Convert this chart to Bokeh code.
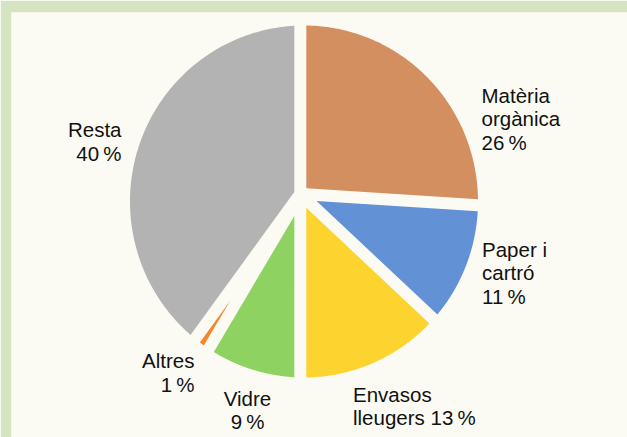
import numpy as np
from bokeh.plotting import figure
from bokeh.models import Range1d, ColumnDataSource
from bokeh.core.properties import value
from bokeh.embed import file_html
from bokeh.resources import INLINE

# ---- data ----
categories = ["Matèria orgànica", "Paper i cartró", "Envasos lleugers", "Vidre", "Altres", "Resta"]
shares = [26, 11, 13, 8.5, 1.5, 40]
labels = ["Matèria\norgànica\n26\u2009%", "Paper i\ncartró\n11\u2009%", "Envasos\nlleugers 13\u2009%",
          "Vidre\n9\u2009%", "Altres\n1\u2009%", "Resta\n40\u2009%"]
colors = ["#d38f60", "#6291d6", "#fdd32f", "#8ed361", "#f7852b", "#b3b3b3"]

# ---- layout / style ----
W, H = 627, 437
BORDER_L, BORDER_T = 11, 12
PANEL = "#fbfbf3"
FRAME = "#d5e5c1"
C_IN = (299.8, 193.5)      # where slice edges converge
C_OUT = (303.5, 201.0)     # centre of outer rim
RX, RY = 174.0, 176.0
HALF_GAP = 6.0
label_pos = [(481, 94.7, "left"), (481.5, 248.7, "left"), (352.5, 393.7, "left"),
             (247, 398, "center"), (194, 360.3, "right"), (121, 129.3, "right")]
LINE_H = 23.4


def u(theta):
    t = np.radians(theta)
    return np.array([np.sin(t), -np.cos(t)])


def hit_ellipse(p, d):
    ox, oy = C_OUT
    px, py = (p[0] - ox) / RX, (p[1] - oy) / RY
    dx, dy = d[0] / RX, d[1] / RY
    a = dx * dx + dy * dy
    b = 2 * (px * dx + py * dy)
    c = px * px + py * py - 1
    t = (-b + np.sqrt(b * b - 4 * a * c)) / (2 * a)
    return p + t * d


def ell_angle(q):
    return np.degrees(np.arctan2((q[0] - C_OUT[0]) / RX, -(q[1] - C_OUT[1]) / RY)) % 360


total = float(sum(shares))
cum = np.concatenate([[0], np.cumsum(shares)]) / total * 360.0
xs, ys, fills = [], [], []
cin = np.array(C_IN)
for i in range(len(shares)):
    a0, a1 = cum[i], cum[i + 1]
    m, half = (a0 + a1) / 2, (a1 - a0) / 2
    h = HALF_GAP
    apex = cin + (h / np.sin(np.radians(half))) * u(m)
    p0 = hit_ellipse(cin + h * u(a0 + 90), u(a0))
    p1 = hit_ellipse(cin + h * u(a1 - 90), u(a1))
    f0, f1 = ell_angle(p0), ell_angle(p1)
    if f1 < f0:
        f1 += 360
    if f1 - f0 > 180 and half < 45:   # slice too thin to show
        continue
    phi = np.radians(np.linspace(f0, f1, 120))
    arc_x = C_OUT[0] + RX * np.sin(phi)
    arc_y = C_OUT[1] - RY * np.cos(phi)
    xs.append([apex[0]] + list(arc_x))
    ys.append([apex[1]] + list(arc_y))
    fills.append(colors[i])

p = figure(width=W, height=H, output_backend="svg", toolbar_location=None,
           x_range=Range1d(BORDER_L, W), y_range=Range1d(H, BORDER_T),
           x_axis_type=None, y_axis_type=None,
           min_border_left=BORDER_L, min_border_top=BORDER_T,
           min_border_right=0, min_border_bottom=0,
           background_fill_color=PANEL, border_fill_color=FRAME,
           outline_line_color=None)
p.styles = {"position": "absolute", "left": "0px", "top": "0px"}

p.patches(xs=xs, ys=ys, fill_color=fills, line_color=None)

for lab, (lx, ly, al) in zip(labels, label_pos):
    lines = lab.split("\n")
    src = ColumnDataSource(dict(x=[lx] * len(lines),
                                y=[ly + k * LINE_H for k in range(len(lines))],
                                t=lines))
    p.text(x="x", y="y", text="t", source=src, text_align=al, text_baseline="alphabetic",
           text_font=value("Liberation Sans"), text_font_size="20.5px", text_color="#111111")

open("out.html", "w").write(file_html(p, INLINE))
